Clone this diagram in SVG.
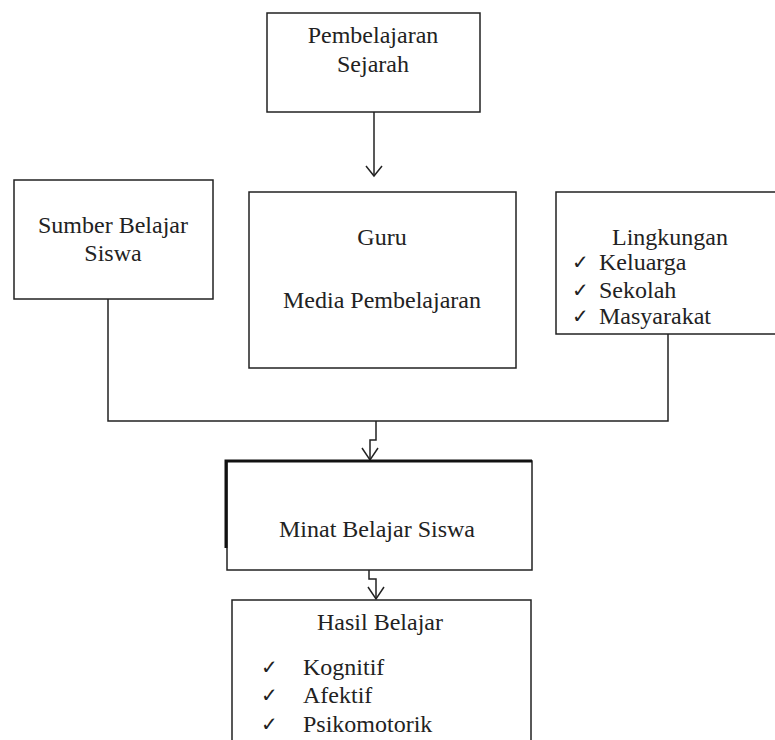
<svg xmlns="http://www.w3.org/2000/svg" width="775" height="740" viewBox="0 0 775 740">
<style>
.box{fill:#fff;stroke:#222;stroke-width:1.5}
.t{font-family:"Liberation Serif","Times New Roman",serif;font-size:24px;fill:#222}
.c{text-anchor:middle}
.ck{font-family:"DejaVu Sans",sans-serif;font-size:20px;fill:#222}
.ln{fill:none;stroke:#222;stroke-width:1.5}
</style>
<rect width="775" height="740" fill="#fff"/>
<g id="connectors">
<path class="ln" d="M374,112 V175"/>
<path class="ln" d="M366,166 L374,176 L382,166"/>
<path class="ln" d="M108,299 V421 H668 V334"/>
<path class="ln" d="M376,421 V440 H370 V459"/>
<path class="ln" d="M362,448 L370,460 L378,448"/>
<path class="ln" d="M369,570 V579 H376 V598"/>
<path class="ln" d="M368,587 L376,599 L384,587"/>
</g>
<g id="pembelajaran">
<rect class="box" x="267" y="13" width="213" height="99"/>
<text class="t c" x="373" y="43">Pembelajaran</text>
<text class="t c" x="373" y="72">Sejarah</text>
</g>
<g id="sumber">
<rect class="box" x="14" y="180" width="199" height="119"/>
<text class="t c" x="113" y="233">Sumber Belajar</text>
<text class="t c" x="113" y="261">Siswa</text>
</g>
<g id="guru">
<rect class="box" x="249" y="192" width="267" height="176"/>
<text class="t c" x="382" y="245">Guru</text>
<text class="t c" x="382" y="308">Media Pembelajaran</text>
</g>
<g id="lingkungan">
<rect class="box" x="556" y="192" width="230" height="142"/>
<text class="t c" x="670" y="245">Lingkungan</text>
<text class="ck" x="572" y="269">✓</text>
<text class="t" x="599" y="270">Keluarga</text>
<text class="ck" x="572" y="297">✓</text>
<text class="t" x="599" y="298">Sekolah</text>
<text class="ck" x="572" y="323">✓</text>
<text class="t" x="599" y="324">Masyarakat</text>
</g>
<g id="minat">
<rect class="box" x="227" y="461" width="305" height="109"/>
<path fill="none" stroke="#111" stroke-width="3" d="M226,548 V461 H532"/>
<text class="t c" x="377" y="537">Minat Belajar Siswa</text>
</g>
<g id="hasil">
<rect class="box" x="232" y="600" width="299" height="160"/>
<text class="t c" x="380" y="630">Hasil Belajar</text>
<text class="ck" x="261" y="674">✓</text>
<text class="t" x="303" y="675">Kognitif</text>
<text class="ck" x="261" y="702">✓</text>
<text class="t" x="303" y="703">Afektif</text>
<text class="ck" x="261" y="731">✓</text>
<text class="t" x="303" y="732">Psikomotorik</text>
</g>
</svg>
